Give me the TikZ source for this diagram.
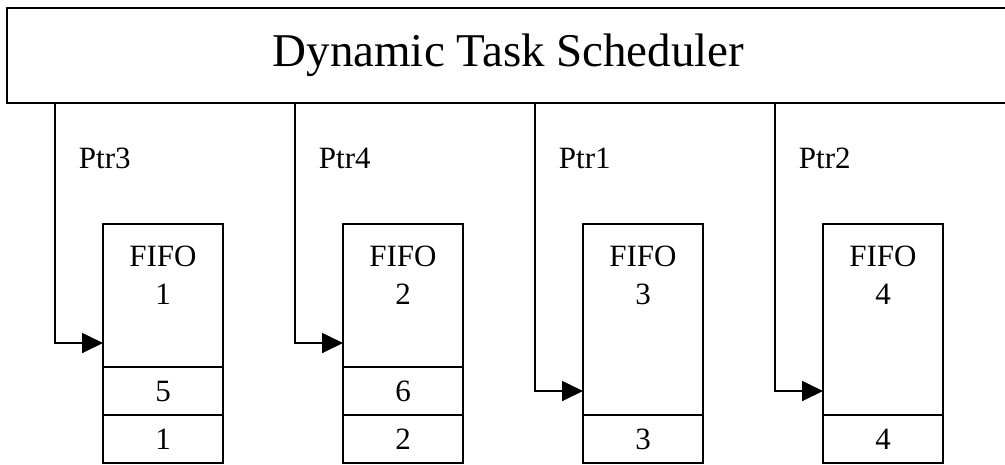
\documentclass[tikz,border=0pt]{standalone}
\usepackage{fontspec}
\setmainfont{Liberation Serif}
\usetikzlibrary{positioning, arrows.meta, calc}

\begin{document}
\begin{tikzpicture}[
    x=1pt, y=-1pt,
    line width=1.8pt,
    box/.style={draw, minimum width=120pt, inner sep=0pt, outer sep=0pt},
    cell/.style={box, minimum height=48pt, font=\fontsize{31}{36}\selectfont},
    fifolbl/.style={align=center, inner sep=0pt, font=\fontsize{31}{38}\selectfont},
    ptrlbl/.style={anchor=west, inner sep=0pt, font=\fontsize{31}{36}\selectfont},
    ptr/.style={-{Triangle[length=21pt,width=20pt]}}
]
    \useasboundingbox (0,0) rectangle (1005,464);

    % Scheduler on top (runs off the right edge)
    \node[draw, minimum width=1003pt, minimum height=95pt, inner sep=0pt,
          font=\fontsize{47}{50}\selectfont] (sched) at (508.5,55.5) {Dynamic Task Scheduler};

    % FIFOs with their filled cells
    \node[box, minimum height=143pt] (f1) at (163,295.5) {};
    \node[cell, below=0pt of f1] (f1a) {5};
    \node[cell, below=0pt of f1a] (f1b) {1};

    \node[box, minimum height=143pt] (f2) at (403,295.5) {};
    \node[cell, below=0pt of f2] (f2a) {6};
    \node[cell, below=0pt of f2a] (f2b) {2};

    \node[box, minimum height=191pt] (f3) at (643,319.5) {};
    \node[cell, below=0pt of f3] (f3a) {3};

    \node[box, minimum height=191pt] (f4) at (883,319.5) {};
    \node[cell, below=0pt of f4] (f4a) {4};

    % FIFO names
    \node[fifolbl, below=21pt of f1.north] (t1) {FIFO\\1};
    \node[fifolbl, below=21pt of f2.north] (t2) {FIFO\\2};
    \node[fifolbl, below=21pt of f3.north] (t3) {FIFO\\3};
    \node[fifolbl, below=21pt of f4.north] (t4) {FIFO\\4};

    % Pointer names
    \node[ptrlbl] (p3) at (78,158) {Ptr3};
    \node[ptrlbl] (p4) at (318,158) {Ptr4};
    \node[ptrlbl] (p1) at (558,158) {Ptr1};
    \node[ptrlbl] (p2) at (798,158) {Ptr2};

    % Where the pointers enter
    \coordinate (in1) at ($(f1.south west)+(0,-24)$);
    \coordinate (in2) at ($(f2.south west)+(0,-24)$);
    \coordinate (in3) at ($(f3.south west)+(0,-24)$);
    \coordinate (in4) at ($(f4.south west)+(0,-24)$);

    % Pointers from the scheduler
    \draw[ptr] ([xshift=-48pt]in1 |- sched.south) |- (in1);
    \draw[ptr] ([xshift=-48pt]in2 |- sched.south) |- (in2);
    \draw[ptr] ([xshift=-48pt]in3 |- sched.south) |- (in3);
    \draw[ptr] ([xshift=-48pt]in4 |- sched.south) |- (in4);
\end{tikzpicture}
\end{document}
